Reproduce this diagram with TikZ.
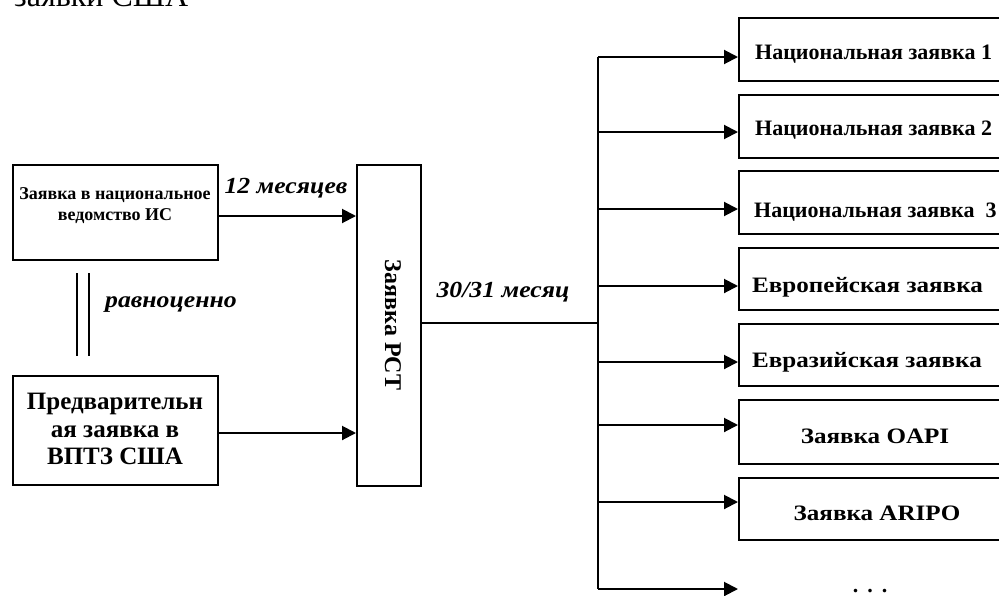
\documentclass[tikz,border=0pt]{standalone}
\usepackage{fontspec}
\setmainfont{Liberation Serif}
\usetikzlibrary{arrows.meta}

\begin{document}
\begin{tikzpicture}[x=1pt,y=-1pt,
  box/.style={draw,line width=2pt,inner sep=0pt,anchor=north west},
  wire/.style={line width=2pt},
  arr/.style={wire,-{Triangle[length=14pt,width=14pt]}},
  lbl/.style={font=\bfseries\fontsize{22}{26}\selectfont,inner sep=0pt},
  widelbl/.style={font=\bfseries\fontsize{22}{26}\selectfont\addfontfeatures{FakeStretch=1.14},inner sep=0pt},
  tag/.style={font=\bfseries\itshape\fontsize{23}{26}\selectfont\addfontfeatures{FakeStretch=1.12},inner sep=0pt}]

\useasboundingbox (0,0) rectangle (999,595);
\clip (0,0) rectangle (999,595);

% heading remnant
\node[font=\fontsize{32}{36}\selectfont,inner sep=0pt,anchor=base west] (head) at (14,6) {заявки США};

% left column
\node[box,minimum width=205pt,minimum height=95pt] (ved) at (12,164) {};
\node[font=\bfseries\fontsize{18}{21}\selectfont,align=center,inner sep=0pt] (vedt) at (115,206) {Заявка в национальное\\ведомство ИС};

\node[box,minimum width=205pt,minimum height=109pt] (prov) at (12,375) {};
\node[font=\bfseries\fontsize{25}{27.5}\selectfont,align=center,inner sep=0pt] (provt) at (115,429) {Предварительн\\ая заявка в\\ВПТЗ США};

% equivalence mark
\coordinate (eqa) at (77,273);
\coordinate (eqb) at (77,356);
\coordinate (eqc) at (89,273);
\coordinate (eqd) at (89,356);
\draw[wire] (eqa) -- (eqb);
\draw[wire] (eqc) -- (eqd);
\node[tag,anchor=base] (eqt) at (171,307) {равноценно};

% PCT application
\node[box,minimum width=64pt,minimum height=321pt] (pct) at (356,164) {};
\node[rotate=-90,font=\bfseries\fontsize{24}{26}\selectfont,inner sep=0pt] (pctt) at (393,325) {Заявка PCT};

\draw[arr] (ved.east |- 0,216) -- (pct.west |- 0,216);
\node[tag,anchor=base] (m12) at (286,193) {12 месяцев};
\draw[arr] (prov.east |- 0,433) -- (pct.west |- 0,433);

% distribution bus
\coordinate (bt) at (598,57);
\coordinate (bb) at (598,589);
\coordinate (bm) at (598,323);
\draw[wire] (pct.east |- bm) -- (bm);
\node[tag,anchor=base] (m30) at (503,297) {30/31 месяц};
\draw[wire] (bt) -- (bb);

% national / regional phase
\node[box,minimum width=300pt,minimum height=63pt] (n1) at (738,17) {};
\node[box,minimum width=300pt,minimum height=63pt] (n2) at (738,94) {};
\node[box,minimum width=300pt,minimum height=63pt] (n3) at (738,170) {};
\node[box,minimum width=300pt,minimum height=62pt] (eu) at (738,247) {};
\node[box,minimum width=300pt,minimum height=62pt] (ea) at (738,323) {};
\node[box,minimum width=300pt,minimum height=64pt] (oa) at (738,399) {};
\node[box,minimum width=300pt,minimum height=62pt] (ar) at (738,477) {};

\node[lbl,anchor=base west] (n1t) at (755,59) {Национальная заявка 1};
\node[lbl,anchor=base west] (n2t) at (755,135) {Национальная заявка 2};
\node[lbl,anchor=base west] (n3t) at (754,217) {Национальная заявка\ \ 3};
\node[widelbl,anchor=base west] (eut) at (752,292) {Европейская заявка};
\node[widelbl,anchor=base west] (eat) at (752,367) {Евразийская заявка};
\node[widelbl,anchor=base] (oat) at (875,443) {Заявка OAPI};
\node[widelbl,anchor=base] (art) at (877,520) {Заявка ARIPO};

\draw[arr] (bt) -- (n1.west |- bt);
\draw[arr] (598,132) -- (n2.west |- 0,132);
\draw[arr] (598,209) -- (n3.west |- 0,209);
\draw[arr] (598,286) -- (eu.west |- 0,286);
\draw[arr] (598,362) -- (ea.west |- 0,362);
\draw[arr] (598,425) -- (oa.west |- 0,425);
\draw[arr] (598,502) -- (ar.west |- 0,502);
\coordinate (more) at (738,589);
\draw[arr] (bb) -- (more);
\node[lbl,anchor=base] (dots) at (870,592) {.\hspace{9pt}.\hspace{9pt}.};
\end{tikzpicture}
\end{document}
